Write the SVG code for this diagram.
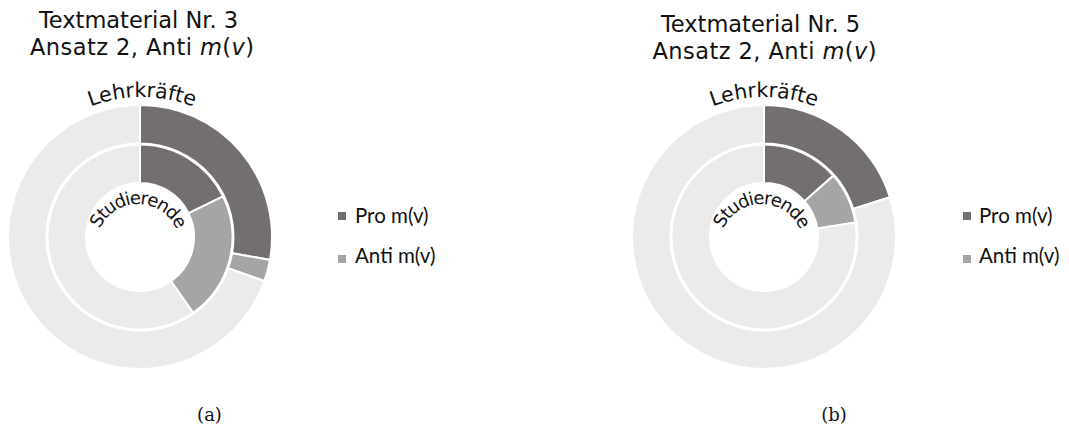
<svg xmlns="http://www.w3.org/2000/svg" width="1069" height="432" viewBox="0 0 1069 432">
<style>
.pro{fill:#736f6e}
.anti{fill:#a5a5a5}
.rest{fill:#ebebeb}
.seg{stroke:#ffffff;stroke-width:2;stroke-linejoin:miter}
.title{font-family:"DejaVu Sans",sans-serif;font-size:22.5px;fill:#111111}
.arc1{font-family:"DejaVu Sans",sans-serif;font-size:20.5px;fill:#111111}
.arc2{font-family:"DejaVu Sans",sans-serif;font-size:18px;letter-spacing:-1.2px;fill:#111111}
.leg{font-family:Lato,"Open Sans",sans-serif;font-size:20.5px;fill:#111111}
.cap{font-family:"DejaVu Serif","Liberation Serif",serif;font-size:18px;fill:#111111}
</style>
<defs>
<path id="arcLa" d="M-1,240 A143,143 0 0 1 285,240"/>
<path id="arcSa" d="M96,246 A42,42 0 0 1 180,246"/>
<path id="arcLb" d="M621,240 A143,143 0 0 1 907,240"/>
<path id="arcSb" d="M719.5,246 A42,42 0 0 1 803.5,246"/>
</defs>
<rect width="1069" height="432" fill="#ffffff"/>

<g id="chart-a">
<text class="title" x="138.5" y="28" text-anchor="middle">Textmaterial Nr. 3</text>
<text class="title" x="142" y="55" text-anchor="middle" textLength="224">Ansatz 2, Anti <tspan font-style="italic">m</tspan>(<tspan font-style="italic">v</tspan>)</text>
<g id="a-outer" class="seg">
<path class="pro" d="M140,105 A132,132 0 0 1 270,259.92 L232.08,253.24 A93.5,93.5 0 0 0 140,143.5 Z"/>
<path class="anti" d="M270,259.92 A132,132 0 0 1 264.43,281.06 L228.14,268.21 A93.5,93.5 0 0 0 232.08,253.24 Z"/>
<path class="rest" d="M264.43,281.06 A132,132 0 1 1 140,105 L140,143.5 A93.5,93.5 0 1 0 228.14,268.21 Z"/>
</g>
<g id="a-inner" class="seg">
<path class="pro" d="M140,144.5 A92.5,92.5 0 0 1 223.14,196.45 L188.53,213.33 A54,54 0 0 0 140,183 Z"/>
<path class="anti" d="M223.14,196.45 A92.5,92.5 0 0 1 193.06,312.77 L170.97,281.23 A54,54 0 0 0 188.53,213.33 Z"/>
<path class="rest" d="M193.06,312.77 A92.5,92.5 0 1 1 140,144.5 L140,183 A54,54 0 1 0 170.97,281.23 Z"/>
</g>
<text class="arc1"><textPath href="#arcLa" startOffset="50%" text-anchor="middle">Lehrkräfte</textPath></text>
<text class="arc2"><textPath href="#arcSa" startOffset="50%" text-anchor="middle">Studierende</textPath></text>
<g id="a-legend">
<rect class="pro" x="338" y="212" width="8" height="8"/>
<text class="leg" x="355" y="223">Pro m(v)</text>
<rect class="anti" x="338" y="255" width="8" height="8"/>
<text class="leg" x="355" y="263">Anti m(v)</text>
</g>
<text class="cap" x="209.5" y="421" text-anchor="middle">(a)</text>
</g>

<g id="chart-b">
<text class="title" x="760.5" y="32" text-anchor="middle">Textmaterial Nr. 5</text>
<text class="title" x="764.5" y="59" text-anchor="middle" textLength="224">Ansatz 2, Anti <tspan font-style="italic">m</tspan>(<tspan font-style="italic">v</tspan>)</text>
<g id="b-outer" class="seg">
<path class="pro" d="M764,105 A132,132 0 0 1 889.89,197.31 L853.17,208.88 A93.5,93.5 0 0 0 764,143.5 Z"/>
<path class="rest" d="M889.89,197.31 A132,132 0 1 1 764,105 L764,143.5 A93.5,93.5 0 1 0 853.17,208.88 Z"/>
</g>
<g id="b-inner" class="seg">
<path class="pro" d="M764,144.5 A92.5,92.5 0 0 1 833.28,175.71 L804.44,201.22 A54,54 0 0 0 764,183 Z"/>
<path class="anti" d="M833.28,175.71 A92.5,92.5 0 0 1 855.36,222.53 L817.34,228.55 A54,54 0 0 0 804.44,201.22 Z"/>
<path class="rest" d="M855.36,222.53 A92.5,92.5 0 1 1 764,144.5 L764,183 A54,54 0 1 0 817.34,228.55 Z"/>
</g>
<text class="arc1"><textPath href="#arcLb" startOffset="50%" text-anchor="middle">Lehrkräfte</textPath></text>
<text class="arc2"><textPath href="#arcSb" startOffset="50%" text-anchor="middle">Studierende</textPath></text>
<g id="b-legend">
<rect class="pro" x="963" y="212" width="8" height="8"/>
<text class="leg" x="979" y="223">Pro m(v)</text>
<rect class="anti" x="963" y="255" width="8" height="8"/>
<text class="leg" x="979" y="263">Anti m(v)</text>
</g>
<text class="cap" x="834" y="421" text-anchor="middle">(b)</text>
</g>
</svg>
